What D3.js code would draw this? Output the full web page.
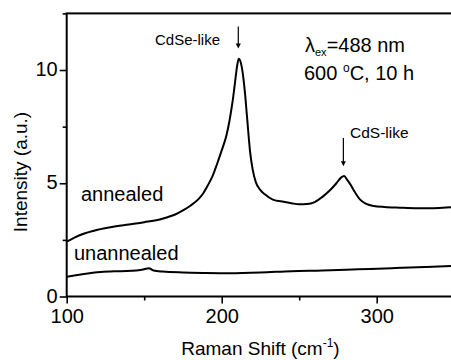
<!DOCTYPE html>
<meta charset="utf-8">
<script src="https://d3js.org/d3.v7.min.js"></script>
<style>
    body { margin: 0; background-color: white; }
    svg { display: block; }
    text { font-family: "Liberation Sans", Arial, sans-serif; fill: black; }
</style>
<body>
<div id="chart"></div>
<script>
    // annealed spectrum (Raman shift, intensity)
    var annealedShift = [100, 105, 110, 120, 130, 140, 150, 160, 165, 170, 175, 180, 185, 188, 191, 194, 197, 200, 203, 205, 207,
        208.5, 210, 211, 212, 213.5, 215, 216.5, 218.3, 220, 222, 225, 228, 233, 240, 245, 250, 255, 260, 265, 270,
        274, 277, 279, 281, 283, 286, 289, 293, 298, 305, 315, 325, 335, 345, 350];
    var annealedValues = [2.42, 2.6, 2.75, 2.95, 3.08, 3.18, 3.28, 3.4, 3.5, 3.62, 3.8, 4.02, 4.3, 4.55, 4.9, 5.3, 5.85, 6.45, 7.1, 7.75, 8.6,
        9.4, 10.2, 10.5, 10.4, 9.9, 9.0, 7.8, 6.4, 5.6, 5.05, 4.7, 4.5, 4.28, 4.18, 4.12, 4.07, 4.08, 4.17, 4.4, 4.7,
        5.0, 5.25, 5.32, 5.15, 4.95, 4.6, 4.3, 4.1, 4.0, 3.95, 3.92, 3.9, 3.9, 3.93, 3.95];

    // unannealed spectrum
    var unannealedShift = [100, 110, 122, 135, 145, 150, 153, 156, 162, 175, 190, 205, 225, 245, 265, 288, 310, 331, 350];
    var unannealedValues = [0.87, 0.98, 1.08, 1.12, 1.15, 1.2, 1.25, 1.15, 1.1, 1.06, 1.04, 1.03, 1.06, 1.12, 1.15, 1.2, 1.25, 1.3, 1.35];

    var xTicks = [100, 200, 300];
    var xMinorTicks = [150, 250, 350];
    var yTicks = [0, 5, 10];
    var yMinorTicks = [2.5, 7.5, 12.5];

    var width = 451, height = 360;
    var margin = { left: 66.7, top: 13.4, bottom: 63.5 };

    var x = d3.scaleLinear().domain([100, 350]).range([margin.left, margin.left + 387.5]);
    var y = d3.scaleLinear().domain([0, 12.5]).range([height - margin.bottom, margin.top]);

    var svg = d3.select("#chart").append("svg")
        .attr("width", width)
        .attr("height", height);

    // frame (right side falls just outside the picture)
    svg.append("rect")
        .attr("x", x(100))
        .attr("y", y(12.5))
        .attr("width", x(350) - x(100))
        .attr("height", y(0) - y(12.5))
        .attr("fill", "none")
        .attr("stroke", "black")
        .attr("stroke-width", 2);

    // axes, ticks pointing outwards
    svg.append("g")
        .attr("transform", "translate(0," + y(0) + ")")
        .call(d3.axisBottom(x).tickValues(xTicks).tickSize(7).tickPadding(5).tickFormat(d3.format("d")));
    svg.append("g")
        .attr("transform", "translate(0," + y(0) + ")")
        .call(d3.axisBottom(x).tickValues(xMinorTicks).tickSize(4).tickFormat(""));

    var yAxis = svg.append("g")
        .attr("transform", "translate(" + x(100) + ",0)")
        .call(d3.axisLeft(y).tickValues(yTicks).tickSize(7).tickPadding(2).tickFormat(d3.format("d")));
    svg.append("g")
        .attr("transform", "translate(" + x(100) + ",0)")
        .call(d3.axisLeft(y).tickValues(yMinorTicks).tickSize(4).tickFormat(""));

    svg.selectAll(".domain").remove();
    svg.selectAll(".tick line").attr("stroke", "black").attr("stroke-width", 1.6);
    svg.selectAll(".tick text")
        .style("font-family", "'Liberation Sans', Arial, sans-serif")
        .style("font-size", "20px")
        .attr("fill", "black");
    yAxis.selectAll(".tick text").attr("dy", "0.28em");

    // axis titles
    var xTitle = svg.append("text")
        .attr("x", (x(100) + x(350)) / 2)
        .attr("y", 355)
        .attr("text-anchor", "middle")
        .style("font-size", "19px");
    xTitle.append("tspan").text("Raman Shift (cm");
    xTitle.append("tspan").attr("dy", -8).style("font-size", "12px").text("-1");
    xTitle.append("tspan").attr("dy", 8).text(")");

    svg.append("text")
        .attr("transform", "translate(27," + 172 + ") rotate(-90)")
        .attr("text-anchor", "middle")
        .style("font-size", "19px")
        .text("Intensity (a.u.)");

    // spectra
    var line = d3.line()
        .x(function (d) { return x(d[0]); })
        .y(function (d) { return y(d[1]); })
        .curve(d3.curveMonotoneX);

    var annealed = annealedShift.map(function (d, i) { return [d, annealedValues[i]]; });
    var unannealed = unannealedShift.map(function (d, i) { return [d, unannealedValues[i]]; });

    svg.append("clipPath").attr("id", "clip")
        .append("rect")
        .attr("x", x(100)).attr("y", y(12.5))
        .attr("width", x(350) - x(100)).attr("height", y(0) - y(12.5));

    [annealed, unannealed].forEach(function (series) {
        svg.append("path")
            .datum(series)
            .attr("clip-path", "url(#clip)")
            .attr("fill", "none")
            .attr("stroke", "black")
            .attr("stroke-width", 2)
            .attr("stroke-linejoin", "round")
            .attr("d", line);
    });

    // curve labels
    svg.append("text").attr("x", 81).attr("y", 201).style("font-size", "20px").text("annealed");
    svg.append("text").attr("x", 74).attr("y", 260).style("font-size", "20px").text("unannealed");

    // peak markers
    function arrow(xv, y1, y2) {
        var px = x(xv);
        svg.append("line")
            .attr("x1", px).attr("x2", px)
            .attr("y1", y(y1)).attr("y2", y(y2) - 3)
            .attr("stroke", "black").attr("stroke-width", 1.2);
        svg.append("path")
            .attr("d", "M" + (px - 2.5) + "," + (y(y2) - 5) + "L" + (px + 2.5) + "," + (y(y2) - 5) + "L" + px + "," + y(y2) + "Z")
            .attr("fill", "black");
    }
    arrow(210.7, 11.92, 10.95);
    arrow(278.5, 7.0, 5.75);

    svg.append("text").attr("x", 155).attr("y", 45).style("font-size", "15px").text("CdSe-like");
    svg.append("text").attr("x", 350).attr("y", 138).style("font-size", "15.5px").text("CdS-like");

    // excitation info
    var lam = svg.append("text").attr("x", 305).attr("y", 52).style("font-size", "20px");
    lam.append("tspan").text("\u03bb");
    lam.append("tspan").attr("dy", 4).style("font-size", "11px").text("ex");
    lam.append("tspan").attr("dy", -4).text("=488 nm");

    var cond = svg.append("text").attr("x", 304).attr("y", 80).style("font-size", "20px");
    cond.append("tspan").text("600 ");
    cond.append("tspan").attr("dy", -8).style("font-size", "12px").text("o");
    cond.append("tspan").attr("dy", 8).text("C, 10 h");
</script>
</body>
